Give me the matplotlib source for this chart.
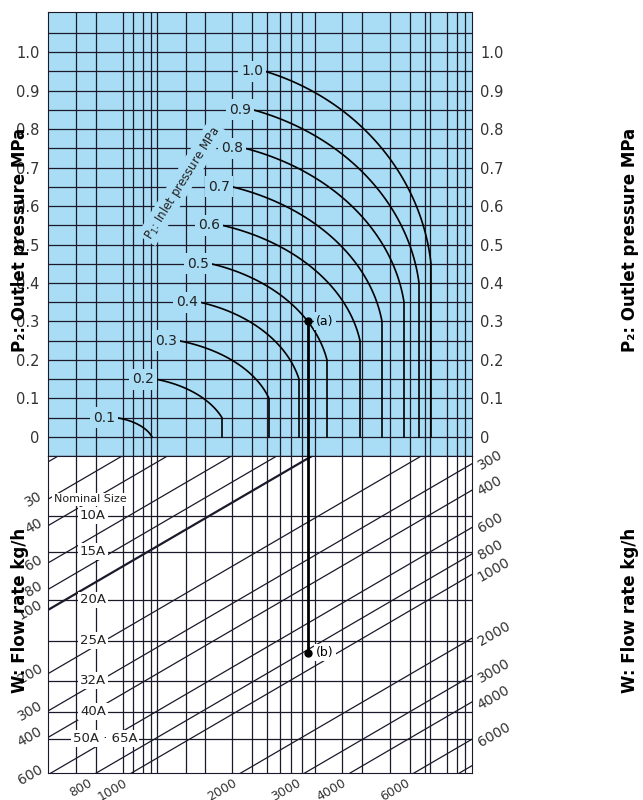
import numpy as np
import matplotlib
matplotlib.use("Agg")
import matplotlib.pyplot as plt

# ---------- data ----------
vgrid = [76, 96, 123, 133, 143, 151, 157, 186, 205, 232, 252, 267, 280, 291, 302,
         315, 342, 362, 390, 410, 425, 430, 447, 457, 465]
p1_vals = [0.1, 0.2, 0.3, 0.4, 0.5, 0.6, 0.7, 0.8, 0.9, 1.0]
p1_start_x = [117, 156, 179, 200, 211, 222, 232, 245, 253, 265]
p1_kink_x = [152, 222, 269, 299, 327, 360, 382, 404, 419, 431]
p1_kink_p2 = [0.0, 0.05, 0.10, 0.15, 0.20, 0.25, 0.30, 0.35, 0.40, 0.45]
p2_ticks = [0, 0.1, 0.2, 0.3, 0.4, 0.5, 0.6, 0.7, 0.8, 0.9, 1.0]
flow_lines = [20, 30, 40, 60, 80, 100, 200, 300, 400, 600, 800, 1000, 2000, 3000, 4000, 6000, 8000]
left_flow_labels = [30, 40, 60, 80, 100, 200, 300, 400, 600]
right_flow_labels = [300, 400, 600, 800, 1000, 2000, 3000, 4000, 6000]
bottom_flow_labels = [800, 1000, 2000, 3000, 4000, 6000]
nominal_sizes = ["10A", "15A", "20A", "25A", "32A", "40A", "50A · 65A"]
nominal_L = [1.556, 1.726, 1.953, 2.146, 2.335, 2.481, 2.609]
point_a = (308, 0.30)
point_b = (308, 2.202)

X0, X1 = 48, 472
K = 0.002754
BLUE = "#a9dcf5"
LC = "#1a1a2a"

fig = plt.figure(figsize=(6.43, 8.0), dpi=100)
axt = fig.add_axes([48/643, 1-456/800, 424/643, 444/800])
axb = fig.add_axes([48/643, 1-773/800, 424/643, 317/800])

# ---------- top ----------
axt.set_facecolor(BLUE)
axt.set_xlim(X0, X1)
axt.set_ylim(-0.0494, 1.104)
for y in np.arange(-0.05, 1.1, 0.05):
    axt.axhline(y, color=LC, lw=0.9, zorder=1)
for x in vgrid:
    axt.axvline(x, color=LC, lw=0.9, zorder=1)
axt.set_yticks(p2_ticks)
axt.set_yticklabels([("0" if v == 0 else f"{v:.1f}") for v in p2_ticks])
axt.tick_params(axis="y", length=0, labelsize=10.5, labelcolor="#333", pad=6,
                right=True, labelright=True)
axt.set_xticks([])
for s in axt.spines.values():
    s.set_color(LC)

for p1, xs, xe, pk in zip(p1_vals, p1_start_x, p1_kink_x, p1_kink_p2):
    ys = p1 - 0.05
    xc = xs - 0.45 * (xe - xs)
    yc = pk - 0.06 if pk > 0 else pk - 0.02
    A = np.array([[(xs - xc) ** 2, (ys - yc) ** 2], [(xe - xc) ** 2, (pk - yc) ** 2]])
    ia, ib = np.linalg.solve(A, [1, 1])
    a, b = 1 / np.sqrt(ia), 1 / np.sqrt(ib)
    t0 = np.arctan2((ys - yc) / b, (xs - xc) / a)
    t1 = np.arctan2((pk - yc) / b, (xe - xc) / a)
    t = np.linspace(t0, t1, 100)
    xx = xc + a * np.cos(t)
    yy = yc + b * np.sin(t)
    if pk > 0:
        xx = np.append(xx, xe); yy = np.append(yy, 0)
    axt.plot(xx, yy, color="black", lw=1.2, zorder=3)
    axt.text(xs - 13, ys, f"{p1:.1f}", ha="center", va="center", fontsize=10, color="#222",
             zorder=4, bbox=dict(boxstyle="square,pad=0.25", fc=BLUE, ec="none"))

axt.text(182, 0.66, "P$_1$: Inlet pressure MPa", rotation=58, ha="center", va="center",
         fontsize=8.5, color="#222", zorder=4,
         bbox=dict(boxstyle="square,pad=0.2", fc=BLUE, ec="none"))
axt.plot(*point_a, "o", color="black", ms=5, zorder=5)
axt.text(point_a[0] + 8, point_a[1], "(a)", va="center", fontsize=9, zorder=5,
         bbox=dict(boxstyle="square,pad=0.2", fc=BLUE, ec="none"))
axt.plot([point_a[0], point_a[0]], [point_a[1], -0.06], color="black", lw=2, zorder=5,
         clip_on=False)

# ---------- bottom ----------
Ltop = 1.273; Lbot = 2.770
axb.set_xlim(X0, X1)
axb.set_ylim(Lbot, Ltop)
axb.set_xticks([]); axb.set_yticks([])
for s in axb.spines.values():
    s.set_color(LC)
for x in vgrid:
    axb.axvline(x, color=LC, lw=0.9, zorder=1)
axb.axvline(point_a[0], ymin=(Lbot - point_b[1]) / (Lbot - Ltop), ymax=1, color="black", lw=2, zorder=5)
xs_ = np.array([X0, X1])
for w in flow_lines:
    yy = np.log10(w) - K * (xs_ - X0)
    axb.plot(xs_, yy, color=LC, lw=1.6 if w == 100 else 0.9, zorder=2)
for name, L in zip(nominal_sizes, nominal_L):
    axb.axhline(L, color=LC, lw=0.9, zorder=1)
    xpos = 93 if "·" not in name else 105
    axb.text(xpos, L, name, ha="center", va="center", fontsize=9.5, color="#222", zorder=4,
             bbox=dict(boxstyle="square,pad=0.15", fc="white", ec="none"))
axb.text(90, 1.477, "Nominal Size", ha="center", va="center", fontsize=8, color="#222",
         zorder=4, bbox=dict(boxstyle="square,pad=0.15", fc="white", ec="none"))
axb.plot(*point_b, "o", color="black", ms=5, zorder=6)
axb.text(point_b[0] + 8, point_b[1], "(b)", va="center", fontsize=9, zorder=6,
         bbox=dict(boxstyle="square,pad=0.15", fc="white", ec="none"))

for w in left_flow_labels:
    axb.text(X0 - 3, np.log10(w), str(w), ha="right", va="center", rotation=30,
             fontsize=10, color="#333", clip_on=False)
for w in right_flow_labels:
    axb.text(X1 + 3, np.log10(w) - K * (X1 - X0) - 0.02, str(w), ha="left", va="center",
             rotation=30, fontsize=10, color="#333", clip_on=False)
for w in bottom_flow_labels:
    xb = X0 + (np.log10(w) - Lbot) / K
    axb.text(xb - 2, Lbot + 0.015, str(w), ha="right", va="top", rotation=30,
             fontsize=9, color="#333", clip_on=False)

lab = dict(fontsize=12, fontweight="bold", rotation=90, ha="center", va="center")
fig.text(20/643, 1 - 240/800, "P₂: Outlet pressure MPa", **lab)
fig.text(630/643, 1 - 240/800, "P₂: Outlet pressure MPa", **lab)
fig.text(20/643, 1 - 610/800, "W: Flow rate kg/h", **lab)
fig.text(630/643, 1 - 610/800, "W: Flow rate kg/h", **lab)

fig.savefig("out.png", dpi=100)
